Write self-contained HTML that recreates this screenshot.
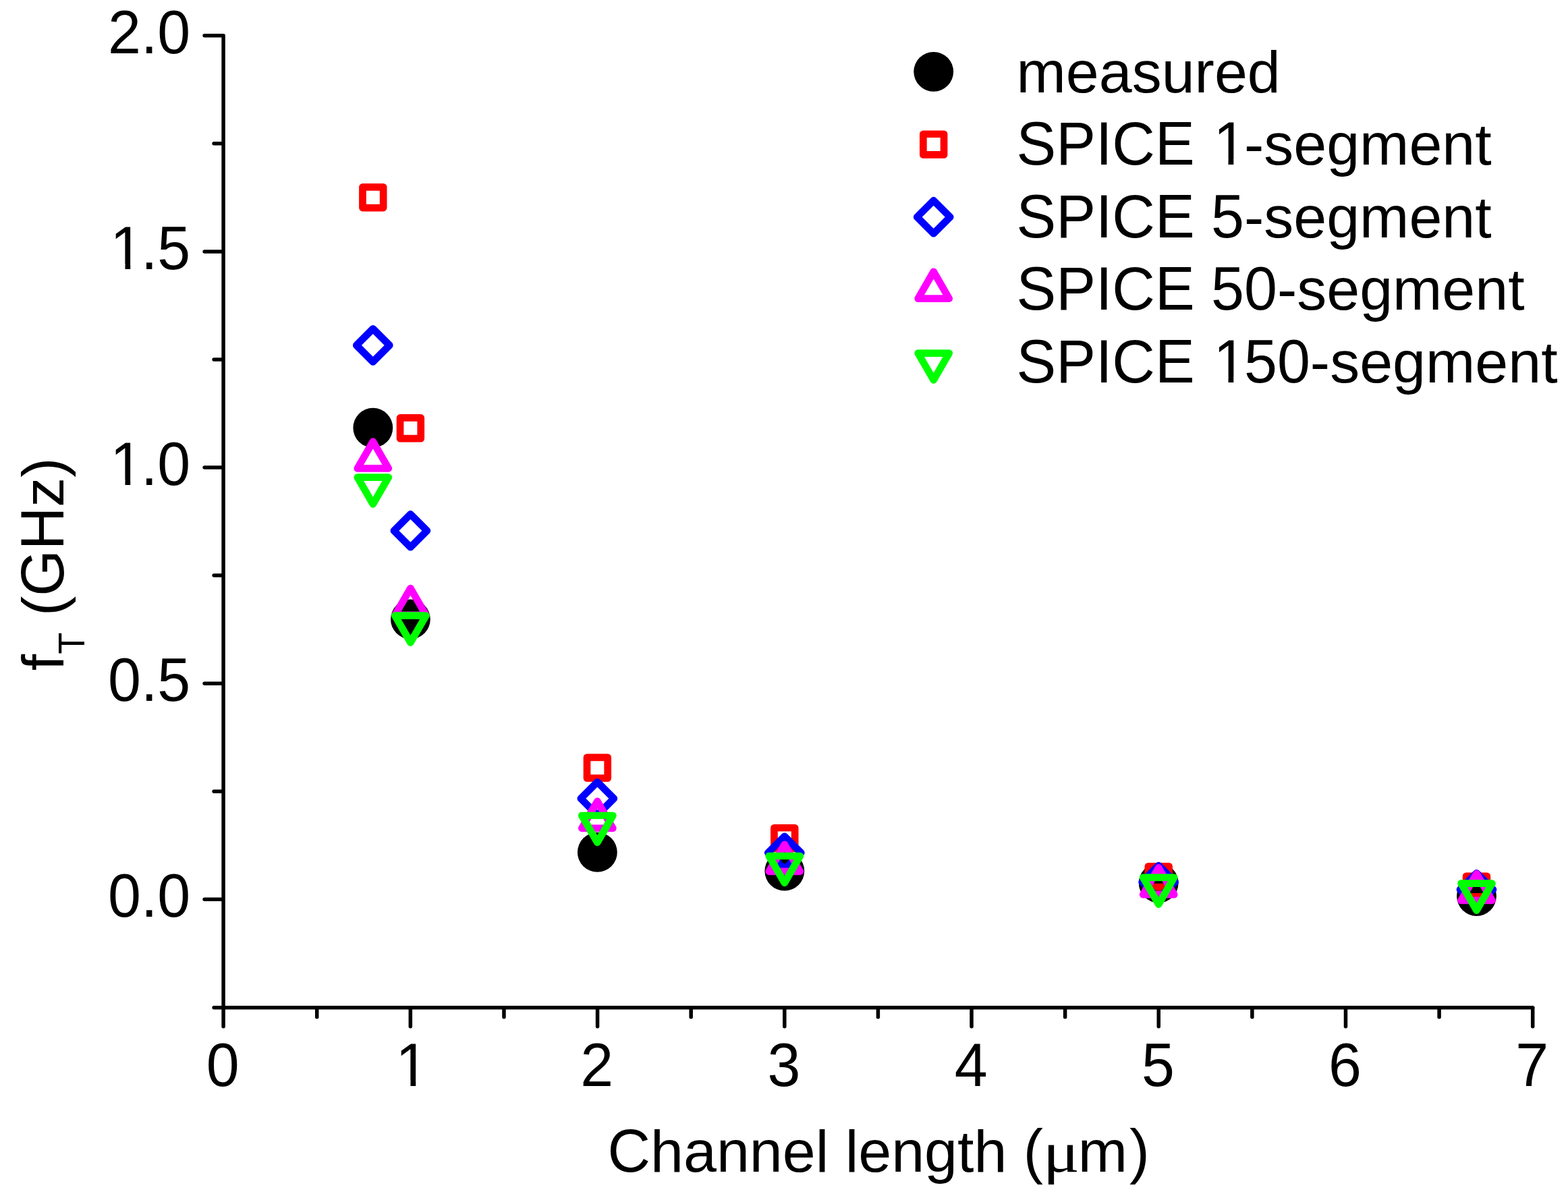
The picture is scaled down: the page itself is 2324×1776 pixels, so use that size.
<!DOCTYPE html><html lang="en"><head><meta charset="utf-8"><title>fT vs channel length</title>
<style>html,body{margin:0;padding:0;background:#fff;}svg{display:block;}text{font-family:"Liberation Sans",Arial,sans-serif;fill:#000;font-kerning:none;}</style></head><body>
<svg width="2324" height="1776" viewBox="0 0 2324 1776">
<rect width="2324" height="1776" fill="#fff"/>
<g stroke="#000" stroke-width="5.5" stroke-linecap="round" fill="none">
<line x1="331.1" y1="52.80" x2="331.1" y2="1493.70"/>
<line x1="317.1" y1="1493.70" x2="2271.71" y2="1493.70"/>
<line x1="303.10" y1="52.80" x2="330.1" y2="52.80"/>
<line x1="317.10" y1="212.86" x2="330.1" y2="212.86"/>
<line x1="303.10" y1="372.92" x2="330.1" y2="372.92"/>
<line x1="317.10" y1="532.99" x2="330.1" y2="532.99"/>
<line x1="303.10" y1="693.05" x2="330.1" y2="693.05"/>
<line x1="317.10" y1="853.11" x2="330.1" y2="853.11"/>
<line x1="303.10" y1="1013.17" x2="330.1" y2="1013.17"/>
<line x1="317.10" y1="1173.24" x2="330.1" y2="1173.24"/>
<line x1="303.10" y1="1333.30" x2="330.1" y2="1333.30"/>
<line x1="331.10" y1="1494.70" x2="331.10" y2="1521.70"/>
<line x1="469.72" y1="1494.70" x2="469.72" y2="1507.70"/>
<line x1="608.33" y1="1494.70" x2="608.33" y2="1521.70"/>
<line x1="746.95" y1="1494.70" x2="746.95" y2="1507.70"/>
<line x1="885.56" y1="1494.70" x2="885.56" y2="1521.70"/>
<line x1="1024.18" y1="1494.70" x2="1024.18" y2="1507.70"/>
<line x1="1162.79" y1="1494.70" x2="1162.79" y2="1521.70"/>
<line x1="1301.41" y1="1494.70" x2="1301.41" y2="1507.70"/>
<line x1="1440.02" y1="1494.70" x2="1440.02" y2="1521.70"/>
<line x1="1578.64" y1="1494.70" x2="1578.64" y2="1507.70"/>
<line x1="1717.25" y1="1494.70" x2="1717.25" y2="1521.70"/>
<line x1="1855.87" y1="1494.70" x2="1855.87" y2="1507.70"/>
<line x1="1994.48" y1="1494.70" x2="1994.48" y2="1521.70"/>
<line x1="2133.10" y1="1494.70" x2="2133.10" y2="1507.70"/>
<line x1="2271.71" y1="1494.70" x2="2271.71" y2="1521.70"/>
</g>
<text transform="translate(159.97,78.90) scale(1,1.025)" font-size="88">2.0</text>
<text transform="translate(159.97,1039.27) scale(1,1.025)" font-size="88">0.5</text>
<text transform="translate(159.97,1359.40) scale(1,1.025)" font-size="88">0.0</text>
<text transform="translate(305.73,1610.00) scale(1,1.025)" font-size="88">0</text>
<text transform="translate(860.19,1610.00) scale(1,1.025)" font-size="88">2</text>
<text transform="translate(1137.42,1610.00) scale(1,1.025)" font-size="88">3</text>
<text transform="translate(1414.65,1610.00) scale(1,1.025)" font-size="88">4</text>
<text transform="translate(1691.88,1610.00) scale(1,1.025)" font-size="88">5</text>
<text transform="translate(1969.11,1610.00) scale(1,1.025)" font-size="88">6</text>
<text transform="translate(2246.34,1610.00) scale(1,1.025)" font-size="88">7</text>
<text transform="translate(900.5,1736.9) scale(1,0.98)" font-size="88"><tspan font-size="93.39" textLength="63.55" lengthAdjust="spacingAndGlyphs">C</tspan>hannel length <tspan font-size="89.80" textLength="29.30" lengthAdjust="spacingAndGlyphs">(</tspan><tspan font-family="Liberation Serif" font-size="88.90" dx="-0.5" textLength="54.3" lengthAdjust="spacingAndGlyphs">μ</tspan><tspan x="697.20">m</tspan><tspan x="773.55" font-size="89.80">)</tspan></text>
<text transform="translate(93.9,994.15) rotate(-90)" font-size="88">f<tspan font-size="55.02" dy="31.1" textLength="32.31" lengthAdjust="spacingAndGlyphs">T</tspan><tspan dy="-31.1"> (</tspan><tspan font-size="91.52" textLength="132.00" lengthAdjust="spacingAndGlyphs">GH</tspan><tspan font-size="85.80" textLength="44.00" lengthAdjust="spacingAndGlyphs">z</tspan>)</text>
<g><circle cx="552.80" cy="634.20" r="29.4" fill="#000"/><circle cx="608.40" cy="918.00" r="29.4" fill="#000"/><circle cx="885.35" cy="1263.40" r="29.4" fill="#000"/><circle cx="1162.80" cy="1291.20" r="29.4" fill="#000"/><circle cx="1717.20" cy="1309.00" r="29.4" fill="#000"/><circle cx="2188.50" cy="1328.50" r="29.4" fill="#000"/></g>
<g><rect x="537.45" y="277.35" width="30.70" height="30.70" fill="none" stroke="#f00" stroke-width="10.7" stroke-linejoin="round"/><rect x="593.05" y="619.45" width="30.70" height="30.70" fill="none" stroke="#f00" stroke-width="10.7" stroke-linejoin="round"/><rect x="870.00" y="1122.90" width="30.70" height="30.70" fill="none" stroke="#f00" stroke-width="10.7" stroke-linejoin="round"/><rect x="1147.45" y="1227.25" width="30.70" height="30.70" fill="none" stroke="#f00" stroke-width="10.7" stroke-linejoin="round"/><rect x="1701.85" y="1284.35" width="30.70" height="30.70" fill="none" stroke="#f00" stroke-width="10.7" stroke-linejoin="round"/><rect x="2173.15" y="1298.75" width="30.70" height="30.70" fill="none" stroke="#f00" stroke-width="10.7" stroke-linejoin="round"/></g>
<g><path d="M552.80 487.40L577.30 511.90L552.80 536.40L528.30 511.90Z" fill="none" stroke="#00f" stroke-width="10.7" stroke-linejoin="round"/><path d="M608.40 762.20L632.90 786.70L608.40 811.20L583.90 786.70Z" fill="none" stroke="#00f" stroke-width="10.7" stroke-linejoin="round"/><path d="M885.35 1159.30L909.85 1183.80L885.35 1208.30L860.85 1183.80Z" fill="none" stroke="#00f" stroke-width="10.7" stroke-linejoin="round"/><path d="M1162.80 1239.80L1187.30 1264.30L1162.80 1288.80L1138.30 1264.30Z" fill="none" stroke="#00f" stroke-width="10.7" stroke-linejoin="round"/><path d="M1717.20 1283.00L1741.70 1307.50L1717.20 1332.00L1692.70 1307.50Z" fill="none" stroke="#00f" stroke-width="10.7" stroke-linejoin="round"/><path d="M2188.50 1294.30L2213.00 1318.80L2188.50 1343.30L2164.00 1318.80Z" fill="none" stroke="#00f" stroke-width="10.7" stroke-linejoin="round"/></g>
<g><path d="M552.80 654.58L575.80 694.42L529.80 694.42Z" fill="none" stroke="#f0f" stroke-width="10.7" stroke-linejoin="round"/><path d="M608.40 872.08L631.40 911.92L585.40 911.92Z" fill="none" stroke="#f0f" stroke-width="10.7" stroke-linejoin="round"/><path d="M885.35 1187.98L908.35 1227.82L862.35 1227.82Z" fill="none" stroke="#f0f" stroke-width="10.7" stroke-linejoin="round"/><path d="M1162.80 1251.98L1185.80 1291.82L1139.80 1291.82Z" fill="none" stroke="#f0f" stroke-width="10.7" stroke-linejoin="round"/><path d="M1717.20 1286.38L1740.20 1326.22L1694.20 1326.22Z" fill="none" stroke="#f0f" stroke-width="10.7" stroke-linejoin="round"/><path d="M2188.50 1295.08L2211.50 1334.92L2165.50 1334.92Z" fill="none" stroke="#f0f" stroke-width="10.7" stroke-linejoin="round"/></g>
<g><path d="M529.80 707.53L575.80 707.53L552.80 747.37Z" fill="none" stroke="#0f0" stroke-width="10.7" stroke-linejoin="round"/><path d="M585.40 912.68L631.40 912.68L608.40 952.52Z" fill="none" stroke="#0f0" stroke-width="10.7" stroke-linejoin="round"/><path d="M862.35 1208.98L908.35 1208.98L885.35 1248.82Z" fill="none" stroke="#0f0" stroke-width="10.7" stroke-linejoin="round"/><path d="M1139.80 1268.98L1185.80 1268.98L1162.80 1308.82Z" fill="none" stroke="#0f0" stroke-width="10.7" stroke-linejoin="round"/><path d="M1694.20 1300.78L1740.20 1300.78L1717.20 1340.62Z" fill="none" stroke="#0f0" stroke-width="10.7" stroke-linejoin="round"/><path d="M2165.50 1309.68L2211.50 1309.68L2188.50 1349.52Z" fill="none" stroke="#0f0" stroke-width="10.7" stroke-linejoin="round"/></g>
<circle cx="1383.70" cy="106.30" r="29.4" fill="#000"/>
<rect x="1368.35" y="198.75" width="30.70" height="30.70" fill="none" stroke="#f00" stroke-width="10.7" stroke-linejoin="round"/>
<path d="M1383.70 297.20L1408.20 321.70L1383.70 346.20L1359.20 321.70Z" fill="none" stroke="#00f" stroke-width="10.7" stroke-linejoin="round"/>
<path d="M1383.70 402.78L1406.70 442.62L1360.70 442.62Z" fill="none" stroke="#f0f" stroke-width="10.7" stroke-linejoin="round"/>
<path d="M1360.70 523.58L1406.70 523.58L1383.70 563.42Z" fill="none" stroke="#0f0" stroke-width="10.7" stroke-linejoin="round"/>
<text transform="translate(1506.50,136.94) scale(1,0.98)" font-size="88">measured</text>
<text transform="translate(1506.50,351.70) scale(1,0.98)" font-size="88"><tspan font-size="93.39" textLength="264.09" lengthAdjust="spacingAndGlyphs">SPICE</tspan> <tspan font-size="92.04" textLength="48.94" lengthAdjust="spacingAndGlyphs">5</tspan>-segment</text>
<text transform="translate(1506.50,459.30) scale(1,0.98)" font-size="88"><tspan font-size="93.39" textLength="264.09" lengthAdjust="spacingAndGlyphs">SPICE</tspan> <tspan font-size="92.04" textLength="97.88" lengthAdjust="spacingAndGlyphs">50</tspan>-segment</text>
<clipPath id="noFoot"><path clip-rule="evenodd" d="M0 0H2324V1776H0Z M168.85 391.18H185.48V400.02H168.85Z M193.26 391.18H209.19V400.02H193.26Z M168.85 711.31H185.48V720.15H168.85Z M193.26 711.31H209.19V720.15H193.26Z M591.84 1602.16H608.47V1611.00H591.84Z M616.25 1602.16H632.19V1611.00H616.25Z M1803.92 236.36H1820.55V245.20H1803.92Z M1828.32 236.36H1844.26V245.20H1828.32Z M1803.92 558.96H1820.55V567.80H1803.92Z M1828.32 558.96H1844.26V567.80H1828.32Z"/></clipPath>
<g clip-path="url(#noFoot)">
<text transform="translate(159.97,399.02) scale(1,1.025)" font-size="88"><tspan font-size="89.34" dx="3.38" textLength="48.94" lengthAdjust="spacingAndGlyphs">1</tspan><tspan dx="-3.38">.</tspan>5</text>
<text transform="translate(159.97,719.15) scale(1,1.025)" font-size="88"><tspan font-size="89.34" dx="3.38" textLength="48.94" lengthAdjust="spacingAndGlyphs">1</tspan><tspan dx="-3.38">.</tspan>0</text>
<text transform="translate(582.96,1610.00) scale(1,1.025)" font-size="88"><tspan font-size="89.34" dx="3.38" textLength="48.94" lengthAdjust="spacingAndGlyphs">1</tspan></text>
<text transform="translate(1506.50,244.20) scale(1,0.98)" font-size="88"><tspan font-size="93.39" textLength="264.09" lengthAdjust="spacingAndGlyphs">SPICE</tspan> <tspan font-size="93.44" dx="3.38" textLength="48.94" lengthAdjust="spacingAndGlyphs">1</tspan><tspan dx="-3.38">-segment</tspan></text>
<text transform="translate(1506.50,566.80) scale(1,0.98)" font-size="88"><tspan font-size="93.39" textLength="264.09" lengthAdjust="spacingAndGlyphs">SPICE</tspan> <tspan font-size="93.44" dx="3.38" textLength="48.94" lengthAdjust="spacingAndGlyphs">1</tspan><tspan dx="-3.38" font-size="92.04" textLength="97.88" lengthAdjust="spacingAndGlyphs">50</tspan>-segment</text>
</g>
</svg></body></html>
